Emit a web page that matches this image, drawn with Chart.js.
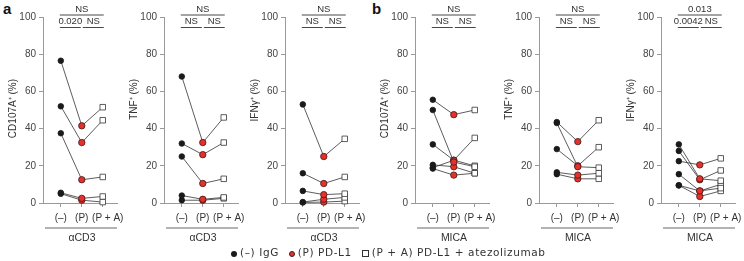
<!DOCTYPE html>
<html>
<head>
<meta charset="utf-8">
<script src="https://cdn.jsdelivr.net/npm/chart.js@4.4.0/dist/chart.umd.min.js"></script>
<style>
  body { margin: 0; width: 744px; height: 261px; background: #fff; position: relative; overflow: hidden; font-family: 'Liberation Sans', Arial, sans-serif; }
  canvas { position: absolute; top: 0; }
  .letter { position: absolute; top: 0; font: bold 15px 'Liberation Sans', Arial, sans-serif; color: #111; }
  #legend { position: absolute; top: 246px; left: 231px; font: 10.5px 'DejaVu Sans', sans-serif; letter-spacing: 0.6px; color: #333; white-space: nowrap; }
  #legend i { display: inline-block; vertical-align: -1px; margin: 0 3px 0 6px; }
  .dot { width: 6px; height: 6px; border-radius: 50%; }
  .sq { width: 7px; height: 7px; border: 0.8px solid #333; box-sizing: border-box; background: #fff; }
</style>
</head>
<body>
<div class="letter" style="left:3px">a</div>
<div class="letter" style="left:372px">b</div>
<canvas id="c1" width="124" height="245"></canvas>
<canvas id="c2" width="124" height="245"></canvas>
<canvas id="c3" width="124" height="245"></canvas>
<canvas id="c4" width="124" height="245"></canvas>
<canvas id="c5" width="124" height="245"></canvas>
<canvas id="c6" width="124" height="245"></canvas>
<div id="legend"><i class="dot" style="background:#1a1a1a;margin-left:0"></i>(–) IgG <i class="dot" style="background:#e8302a;border:0.8px solid #3a1a1a;box-sizing:border-box"></i>(P) PD-L1 <i class="sq"></i>(P + A) PD-L1 + atezolizumab</div>
<script>
const conditions = ['(–)', '(P)', '(P + A)'];
const yTicks = [0, 20, 40, 60, 80, 100];

// one row per donor: (–), (P), (P + A)
const cd107aCD3 = [[76.5, 41.5, 51.5], [52, 32.5, 44.5], [37.5, 12.5, 14], [5.5, 2.5, 3.5], [5, 1.5, 0.5]];
const tnfCD3 = [[68, 32.5, 46], [32, 26, 32.5], [25, 10.5, 13], [4, 2, 3], [1.5, 1.5, 2.5]];
const ifngCD3 = [[53, 25, 34.5], [16, 10.5, 14], [6.5, 4.5, 5], [0.5, 2, 3], [0.3, 0.5, 1]];
const cd107aMICA = [[55.5, 47.5, 50], [50, 22, 19.5], [31.5, 23, 20], [20.5, 19.5, 16], [19, 23, 35], [18.5, 15, 16]];
const tnfMICA = [[43.5, 33, 44.5], [43, 19.5, 19], [29, 20, 30], [16.5, 15, 16], [15.5, 13, 13]];
const ifngMICA = [[22.5, 20.5, 24], [31.5, 13, 12], [28, 12.5, 17.5], [15.5, 6.5, 8], [9.5, 3.5, 6.5], [9.5, 6.5, 10]];

// significance: [top, left pair, right pair]
const stats1 = ['NS', '0.020', 'NS'];
const stats2 = ['NS', 'NS', 'NS'];
const stats3 = ['NS', 'NS', 'NS'];
const stats4 = ['NS', 'NS', 'NS'];
const stats5 = ['NS', 'NS', 'NS'];
const stats6 = ['0.013', '0.0042', 'NS'];

const panels = [
  { id: 'c1', axisX: 43, title: 'CD107A⁺ (%)', group: 'αCD3', donors: cd107aCD3, stats: stats1 },
  { id: 'c2', axisX: 164, title: 'TNF⁺ (%)', group: 'αCD3', donors: tnfCD3, stats: stats2 },
  { id: 'c3', axisX: 285, title: 'IFNγ⁺ (%)', group: 'αCD3', donors: ifngCD3, stats: stats3 },
  { id: 'c4', axisX: 415, title: 'CD107A⁺ (%)', group: 'MICA', donors: cd107aMICA, stats: stats4 },
  { id: 'c5', axisX: 539, title: 'TNF⁺ (%)', group: 'MICA', donors: tnfMICA, stats: stats5 },
  { id: 'c6', axisX: 661, title: 'IFNγ⁺ (%)', group: 'MICA', donors: ifngMICA, stats: stats6 }
];

const FONT = "'Liberation Sans', Arial, sans-serif";
const axisGrey = '#9a9a9a';
const labelShift = [0, 0, 5]; // (P + A) sits a bit right of its tick

// brackets on top, x labels, group bar and label underneath, y title
const decor = {
  id: 'decor',
  afterDraw(chart, args, opts) {
    const ctx = chart.ctx, x = chart.scales.x, a = chart.chartArea;
    const p0 = x.getPixelForValue(0), p1 = x.getPixelForValue(1), p2 = x.getPixelForValue(2);
    ctx.save();
    ctx.strokeStyle = '#333';
    ctx.lineWidth = 0.9;
    ctx.fillStyle = '#333';
    ctx.font = '9.5px ' + FONT;
    ctx.textAlign = 'center';
    ctx.textBaseline = 'middle';
    ctx.beginPath();
    ctx.moveTo(p0 - 1, 15); ctx.lineTo(p2 + 1, 15);
    ctx.moveTo(p0 - 1, 27.5); ctx.lineTo(p1 - 1, 27.5);
    ctx.moveTo(p1 + 1, 27.5); ctx.lineTo(p2 + 1, 27.5);
    ctx.stroke();
    ctx.fillText(opts.stats[0], (p0 + p2) / 2, 9);
    ctx.fillText(opts.stats[1], (p0 + p1) / 2 - 1, 21.5);
    ctx.fillText(opts.stats[2], (p1 + p2) / 2 + 1, 21.5);

    ctx.font = '10px ' + FONT;
    conditions.forEach((c, i) => ctx.fillText(c, x.getPixelForValue(i) + labelShift[i], 218));

    ctx.strokeStyle = axisGrey;
    ctx.lineWidth = 1.6;
    ctx.beginPath();
    ctx.moveTo(a.left + 2, 228); ctx.lineTo(a.right, 228);
    ctx.stroke();
    ctx.font = '10.5px ' + FONT;
    ctx.fillText(opts.group, (a.left + a.right) / 2 + 2, 238);

    ctx.translate(a.left - 30, 79);
    ctx.rotate(-Math.PI / 2);
    ctx.textAlign = 'right';
    ctx.font = '10px ' + FONT;
    ctx.fillText(opts.title, 0, 0);
    ctx.restore();
  }
};

panels.forEach(p => {
  const el = document.getElementById(p.id);
  el.style.left = (p.axisX - 44) + 'px';
  new Chart(el, {
    type: 'line',
    data: {
      datasets: p.donors.map(d => ({
        data: d.map((v, i) => ({ x: i, y: v })),
        borderColor: '#333',
        borderWidth: 0.8,
        pointStyle: ['circle', 'circle', 'rect'],
        pointRadius: [2.8, 3.2, 3.9],
        pointBackgroundColor: ['#1a1a1a', '#e8302a', '#fff'],
        pointBorderColor: ['#1a1a1a', '#3a1a1a', '#333'],
        pointBorderWidth: 0.8,
        clip: false
      }))
    },
    options: {
      responsive: false,
      animation: false,
      devicePixelRatio: 1,
      layout: { padding: { top: 17, left: 8, right: 6, bottom: 0 } },
      plugins: { legend: { display: false }, tooltip: { enabled: false }, decor: { stats: p.stats, group: p.group, title: p.title } },
      scales: {
        x: {
          type: 'linear', min: -0.85, max: 2.68,
          afterBuildTicks: s => { s.ticks = conditions.map((c, i) => ({ value: i })); },
          afterFit: s => { s.height = 42; s.paddingLeft = 0; s.paddingRight = 0; },
          ticks: { display: false },
          grid: { drawOnChartArea: false, tickLength: 4, color: axisGrey },
          border: { color: axisGrey, width: 1 }
        },
        y: {
          min: 0, max: 100,
          afterBuildTicks: s => { s.ticks = yTicks.map(v => ({ value: v })); },
          afterFit: s => { s.width = 36; s.paddingTop = 0; s.paddingBottom = 0; },
          ticks: { color: '#444', font: { size: 10, family: FONT }, padding: 3 },
          grid: { drawOnChartArea: false, tickLength: 4, color: axisGrey },
          border: { color: axisGrey, width: 1 }
        }
      }
    },
    plugins: [decor]
  });
});
</script>
</body>
</html>
